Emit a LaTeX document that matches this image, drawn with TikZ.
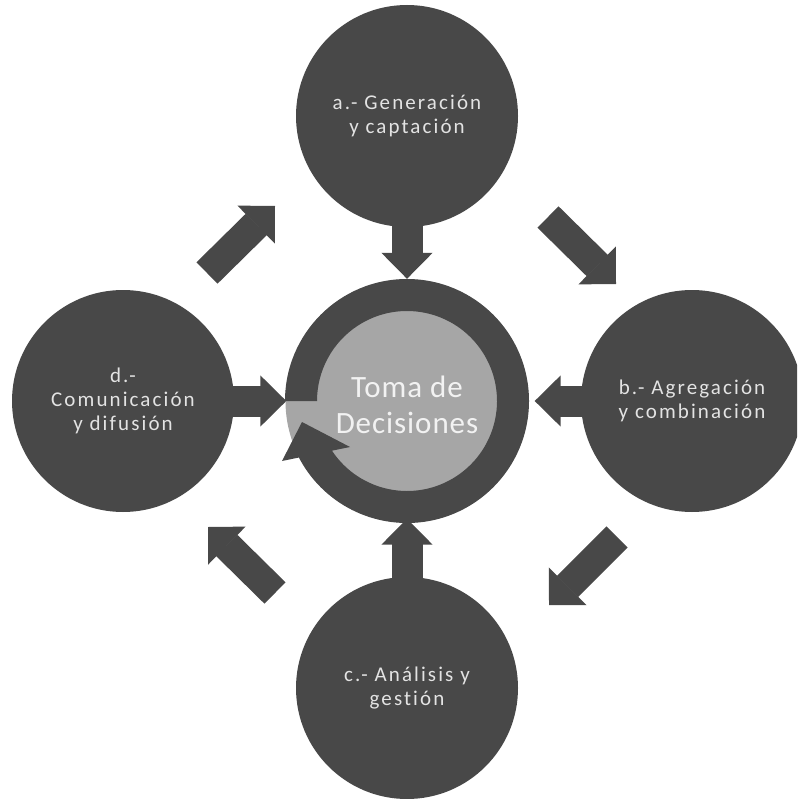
\documentclass[tikz,border=0pt]{standalone}
\usepackage{fontspec}
\setmainfont{Carlito}
\newfontfamily\outerfont[LetterSpace=10,Ligatures=NoCommon]{Carlito}
\newfontfamily\centerfont[LetterSpace=3,Ligatures=NoCommon]{Carlito}
\usetikzlibrary{arrows.meta}
\definecolor{darkfill}{HTML}{484848}
\definecolor{lightfill}{HTML}{A6A6A6}
\definecolor{outertext}{HTML}{E3E3E3}
\definecolor{centertext}{HTML}{F2F2F2}
\pgfdeclarelayer{bg}
\pgfsetlayers{bg,main}
\begin{document}
\begin{tikzpicture}[x=1pt, y=-1pt,
  stage/.style={circle, fill=darkfill, minimum size=222pt, inner sep=0pt,
    text=outertext, align=center, font=\outerfont\fontsize{21pt}{24pt}\selectfont},
  blockarrow/.style={draw=darkfill, line width=31pt,
    -{Triangle[length=26pt,width=51pt,line width=1.5pt]}},
  diagarrow/.style={draw=darkfill, line width=30pt,
    -{Triangle[length=26.5pt,width=53pt,line width=1.5pt]}}]
\clip (0,0) rectangle (797,799);
% central disk
\node[circle, fill=lightfill, minimum size=243pt, inner sep=0pt] (ring) at (407,401) {};
% circular arrow around the centre
\begin{scope}[shift={(ring.center)}, yscale=-1]
\fill[darkfill] (180:122) arc[start angle=180, end angle=-152.4, radius=122]
  -- (-125,-60) -- (-105,-21) -- (-57,-46)
  -- (-146.5:90) arc[start angle=-146.5, end angle=180, radius=90] -- cycle;
\end{scope}
\node[text=centertext, align=center, font=\centerfont\fontsize{31pt}{36pt}\selectfont]
  (dec) at (407,405) {Toma de\\Decisiones};
% outer stages
\node[stage] (a) at (407,116) {a.- Generación\\y captación};
\node[stage] (b) at (692,401) {b.- Agregación\\y combinación};
\node[stage] (c) at (407,688) {c.- Análisis y\\gestión};
\node[stage] (d) at (123,401) {d.-\\Comunicación\\y difusión};
% arrows
\coordinate (ta) at ([yshift=0.5pt]ring.north);
\coordinate (tb) at ([xshift=6pt]ring.east);
\coordinate (tc) at ([yshift=4pt]ring.south);
\coordinate (td) at ([xshift=1pt]ring.west);
\coordinate (da1) at (207,273);
\coordinate (da2) at (275,206);
\coordinate (ab1) at (548,217);
\coordinate (ab2) at (616,284);
\coordinate (bc1) at (617,537);
\coordinate (bc2) at (549,605);
\coordinate (cd1) at (275,593);
\coordinate (cd2) at (208,527);
\begin{pgfonlayer}{bg}
\draw[blockarrow] (a.center) -- (ta);
\draw[blockarrow] (b.center) -- (tb);
\draw[blockarrow] (c.center) -- (tc);
\draw[blockarrow] (d.center) -- (td);
\draw[diagarrow] (da1) -- (da2);
\draw[diagarrow] (ab1) -- (ab2);
\draw[diagarrow] (bc1) -- (bc2);
\draw[diagarrow] (cd1) -- (cd2);
\end{pgfonlayer}
\end{tikzpicture}
\end{document}
